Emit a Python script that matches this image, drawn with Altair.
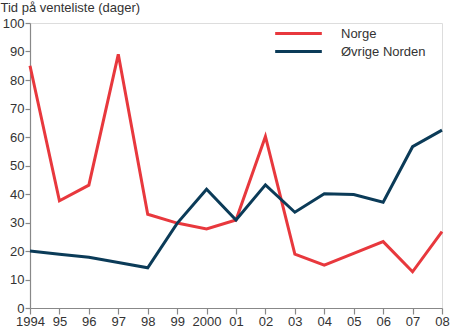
import altair as alt
import pandas as pd

years = ["1994", "95", "96", "97", "98", "99", "2000", "01", "02", "03", "04", "05", "06", "07", "08"]
norge = [85, 37.6, 43.1, 89, 32.9, 29.8, 27.7, 30.9, 60.2, 18.9, 15.0, 19.2, 23.3, 12.7, 26.8]
ovrige = [20, 18.9, 17.8, 16, 14.1, 29.7, 41.7, 30.9, 43.2, 33.6, 40.1, 39.8, 37.1, 56.6, 62.4]
series = ["Norge", "Øvrige Norden"]
colors = ["#e8383d", "#0b3b58"]
yticks = [0, 10, 20, 30, 40, 50, 60, 70, 80, 90, 100]

rows = []
for name, vals in zip(series, [norge, ovrige]):
    for y, v in zip(years, vals):
        rows.append({"year": y, "value": v, "series": name})
df = pd.DataFrame(rows)

font = "Liberation Sans"
chart = alt.Chart(df).mark_line(strokeWidth=3).encode(
    x=alt.X("year:O", sort=years,
            scale=alt.Scale(type="point", padding=0),
            axis=alt.Axis(title=None, labelAngle=0, domainColor="#888", tickColor="#888",
                          tickSize=6, labelFont=font, labelFontSize=13, labelColor="#333",
                          labelPadding=1, domainWidth=1.2, tickWidth=1.2)),
    y=alt.Y("value:Q", scale=alt.Scale(domain=[0, 100], nice=False),
            axis=alt.Axis(values=yticks, grid=False, title="Tid på venteliste (dager)",
                          titleAngle=0, titleAlign="left", titleX=-30, titleY=-12,
                          titleFont=font, titleFontSize=13, titleFontWeight="normal",
                          titleColor="#333", titleBaseline="alphabetic",
                          domainColor="#888", tickColor="#888", tickSize=5,
                          labelFont=font, labelFontSize=13, labelColor="#333",
                          labelPadding=1, domainWidth=1.2, tickWidth=1.2)),
    color=alt.Color("series:N", sort=series,
                    scale=alt.Scale(domain=series, range=colors),
                    legend=alt.Legend(title=None, orient="none", legendX=261, legendY=3,
                                      padding=0,
                                      symbolType="M-4,0H4", symbolSize=136, symbolStrokeWidth=3,
                                      labelFont=font, labelFontSize=13, labelColor="#333",
                                      labelOffset=35, rowPadding=3)),
).properties(
    width=412, height=285,
    autosize=alt.AutoSizeParams(type="none"),
    padding={"left": 30, "top": 23, "right": 8, "bottom": 19},
).configure_view(stroke=None).configure(background="white")

chart.save("out.html", embed_options={"renderer": "svg", "actions": False})
